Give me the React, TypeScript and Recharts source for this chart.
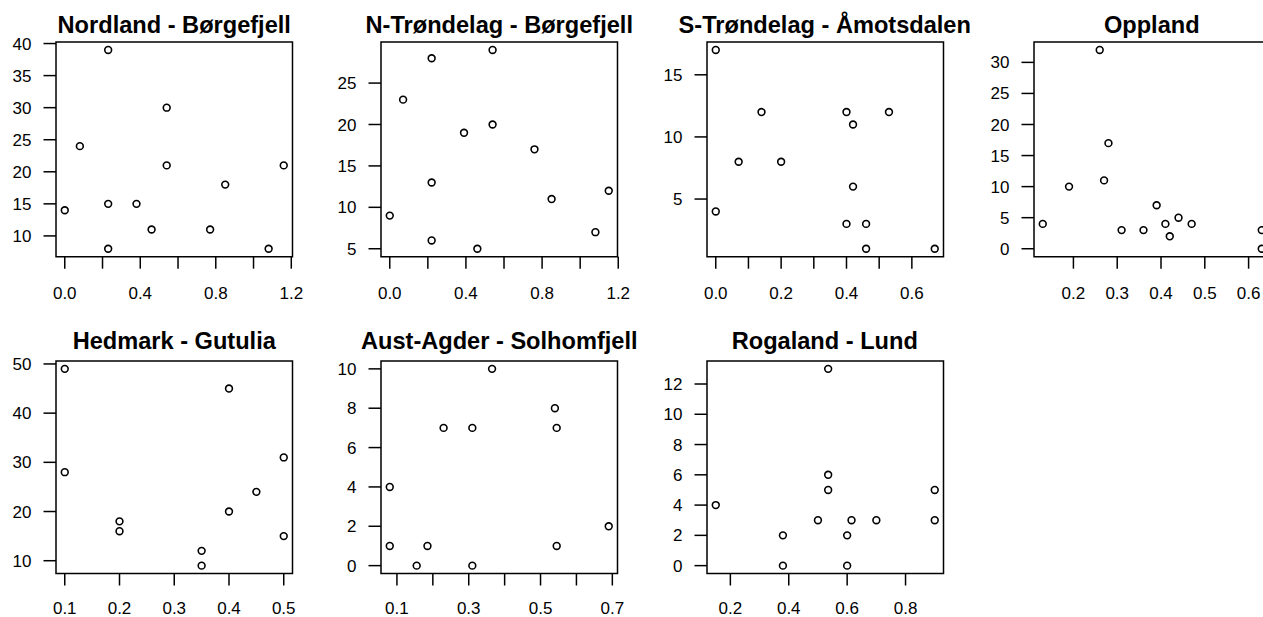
import { ScatterChart, Scatter, XAxis, YAxis, ReferenceArea } from 'recharts';

// ---- data ----
const nordlandX = [0.23, 0.08, 0, 0.23, 0.23, 0.38, 0.46, 0.54, 0.54, 0.77, 0.85, 1.08, 1.16];
const nordlandY = [39, 24, 14, 15, 8, 15, 11, 30, 21, 11, 18, 8, 21];

const nTrondelagX = [0, 0.07, 0.22, 0.22, 0.22, 0.39, 0.46, 0.54, 0.54, 0.76, 0.85, 1.08, 1.15];
const nTrondelagY = [9, 23, 28, 13, 6, 19, 5, 29, 20, 17, 11, 7, 12];

const sTrondelagX = [0, 0, 0.07, 0.14, 0.2, 0.4, 0.42, 0.42, 0.4, 0.46, 0.46, 0.53, 0.67];
const sTrondelagY = [17, 4, 8, 12, 8, 12, 11, 6, 3, 3, 1, 12, 1];

const opplandX = [0.13, 0.19, 0.26, 0.27, 0.28, 0.31, 0.36, 0.39, 0.41, 0.42, 0.44, 0.47, 0.63, 0.63];
const opplandY = [4, 10, 32, 11, 17, 3, 3, 7, 4, 2, 5, 4, 3, 0];

const hedmarkX = [0.1, 0.1, 0.2, 0.2, 0.35, 0.35, 0.4, 0.4, 0.45, 0.5, 0.5];
const hedmarkY = [49, 28, 18, 16, 12, 9, 45, 20, 24, 31, 15];

const austAgderX = [0.08, 0.08, 0.155, 0.185, 0.23, 0.31, 0.31, 0.365, 0.54, 0.545, 0.545, 0.69];
const austAgderY = [4, 1, 0, 1, 7, 7, 0, 10, 8, 7, 1, 2];

const rogalandX = [0.15, 0.38, 0.38, 0.5, 0.535, 0.535, 0.535, 0.6, 0.6, 0.615, 0.7, 0.9, 0.9];
const rogalandY = [4, 2, 0, 3, 13, 6, 5, 2, 0, 3, 3, 5, 3];

// ---- tick marks and the ticks that carry a label ----
const ticksX0to12 = [0, 0.2, 0.4, 0.6, 0.8, 1, 1.2];
const labelsX0to12 = [0, 0.4, 0.8, 1.2];
const ticksX0to6 = [0, 0.1, 0.2, 0.3, 0.4, 0.5, 0.6];
const labelsX0to6 = [0, 0.2, 0.4, 0.6];
const ticksXOppland = [0.2, 0.3, 0.4, 0.5, 0.6];
const ticksXHedmark = [0.1, 0.2, 0.3, 0.4, 0.5];
const ticksXAust = [0.1, 0.2, 0.3, 0.4, 0.5, 0.6, 0.7];
const labelsXAust = [0.1, 0.3, 0.5, 0.7];
const ticksXRogaland = [0.2, 0.4, 0.6, 0.8];

const ticksYNordland = [10, 15, 20, 25, 30, 35, 40];
const ticksYNTrondelag = [5, 10, 15, 20, 25];
const ticksYSTrondelag = [5, 10, 15];
const ticksYOppland = [0, 5, 10, 15, 20, 25, 30];
const ticksYHedmark = [10, 20, 30, 40, 50];
const ticksYAust = [0, 2, 4, 6, 8, 10];
const ticksYRogaland = [0, 2, 4, 6, 8, 10, 12];

const titles = [
  'Nordland - Børgefjell',
  'N-Trøndelag - Børgefjell',
  'S-Trøndelag - Åmotsdalen',
  'Oppland',
  'Hedmark - Gutulia',
  'Aust-Agder - Solhomfjell',
  'Rogaland - Lund',
];

const panels = [
  { xs: nordlandX, ys: nordlandY, xTicks: ticksX0to12, xLabels: labelsX0to12, yTicks: ticksYNordland },
  { xs: nTrondelagX, ys: nTrondelagY, xTicks: ticksX0to12, xLabels: labelsX0to12, yTicks: ticksYNTrondelag },
  { xs: sTrondelagX, ys: sTrondelagY, xTicks: ticksX0to6, xLabels: labelsX0to6, yTicks: ticksYSTrondelag },
  { xs: opplandX, ys: opplandY, xTicks: ticksXOppland, xLabels: ticksXOppland, yTicks: ticksYOppland },
  { xs: hedmarkX, ys: hedmarkY, xTicks: ticksXHedmark, xLabels: ticksXHedmark, yTicks: ticksYHedmark },
  { xs: austAgderX, ys: austAgderY, xTicks: ticksXAust, xLabels: labelsXAust, yTicks: ticksYAust },
  { xs: rogalandX, ys: rogalandY, xTicks: ticksXRogaland, xLabels: ticksXRogaland, yTicks: ticksYRogaland },
];

// ---- layout (R mfrow = c(2, 4)) ----
const FONT = '"Liberation Sans", Arial, sans-serif';
const BOX_LEFT = [56, 381, 706.5, 1033.5];
const BOX_TOP = [42.3, 360.8];
const BOX_W = 236.5;
const BOX_H = [214.7, 212.5];
const TITLE_BASE = [33.5, 350];
const TITLE_SIZE = 23.6;
const X_LABEL_GAP = [18, 16];
const PAD_L = 60, PAD_T = 10, PAD_R = 25, PAD_B = 50;

// R pads the data range by 4% on each side
function rRange(v: number[]): [number, number] {
  const lo = Math.min(...v), hi = Math.max(...v);
  const d = (hi - lo) * 0.04;
  return [lo - d, hi + d];
}

function Ring(props: any) {
  const { cx, cy } = props;
  return <circle cx={cx} cy={cy} r={3.4} fill="none" stroke="#000" strokeWidth={1.6} />;
}

function Panel({ idx }: { idx: number }) {
  const p = panels[idx];
  const col = idx % 4, row = Math.floor(idx / 4);
  const left = BOX_LEFT[col], top = BOX_TOP[row], h = BOX_H[row];
  const data = p.xs.map((x, i) => ({ x, y: p.ys[i] }));
  const xd = rRange(p.xs), yd = rRange(p.ys);
  const lineStyle = { stroke: '#000', strokeWidth: 1.5 };
  const tickStyle = { fill: '#000', fontSize: 17, fontFamily: FONT };

  return (
    <>
      <div style={{
        position: 'absolute', left: left + BOX_W / 2, transform: 'translateX(-50%)',
        top: TITLE_BASE[row] - TITLE_SIZE * 0.8465, fontFamily: FONT, fontWeight: 'bold',
        fontSize: TITLE_SIZE, lineHeight: `${TITLE_SIZE}px`, whiteSpace: 'nowrap', color: '#000',
      }}>
        {titles[idx]}
      </div>
      <div style={{ position: 'absolute', left: left - PAD_L, top: top - PAD_T }}>
        <ScatterChart
          width={PAD_L + BOX_W + PAD_R}
          height={PAD_T + h + PAD_B}
          margin={{ top: PAD_T, right: PAD_R, bottom: 0, left: 0 }}
        >
          <XAxis
            type="number" dataKey="x" domain={xd} ticks={p.xTicks} interval={0} allowDataOverflow
            height={PAD_B} axisLine={false} tickLine={lineStyle} tickSize={12}
            tickMargin={X_LABEL_GAP[row]} tick={tickStyle}
            tickFormatter={(v: number) => (p.xLabels.includes(v) ? v.toFixed(1) : '')}
          />
          <YAxis
            type="number" dataKey="y" domain={yd} ticks={p.yTicks} interval={0} allowDataOverflow
            width={PAD_L} axisLine={false} tickLine={lineStyle} tickSize={12.5} tickMargin={12}
            tick={tickStyle}
          />
          <ReferenceArea
            x1={xd[0]} x2={xd[1]} y1={yd[0]} y2={yd[1]} ifOverflow="visible"
            fill="none" stroke="#000" strokeWidth={1.5}
          />
          <Scatter data={data} shape={Ring} isAnimationActive={false} />
        </ScatterChart>
      </div>
    </>
  );
}

export default function App() {
  return (
    <div style={{
      position: 'absolute', left: 0, top: 0, width: 1263, height: 617,
      overflow: 'hidden', background: '#fff',
    }}>
      {panels.map((_, i) => <Panel key={i} idx={i} />)}
    </div>
  );
}
